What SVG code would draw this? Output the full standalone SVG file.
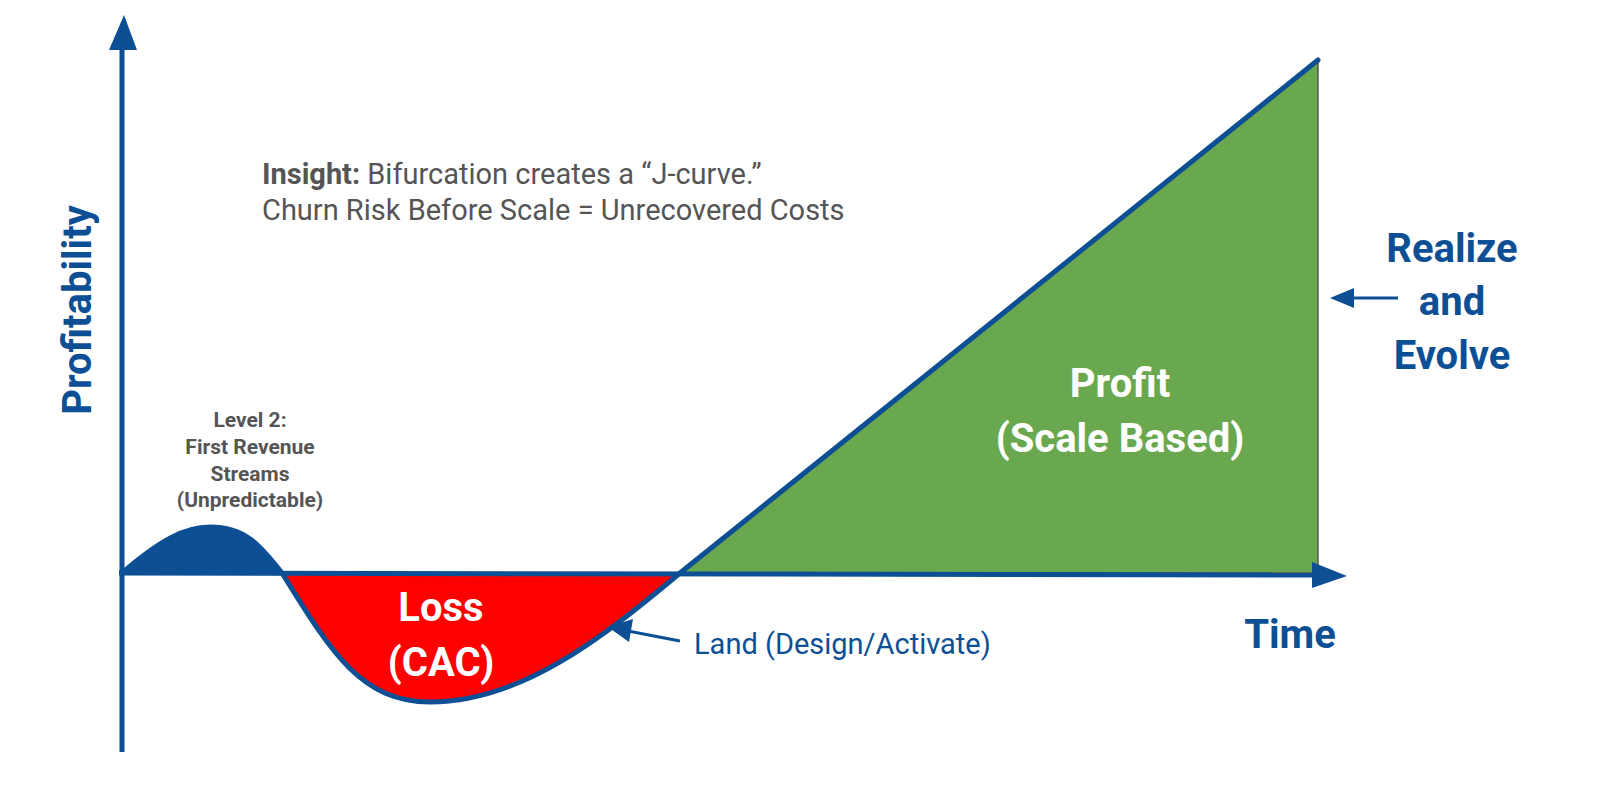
<svg xmlns="http://www.w3.org/2000/svg" width="1600" height="801" viewBox="0 0 1600 801">
<style>
.b{fill:#0d4f94;font-family:Roboto,"Liberation Sans",sans-serif;font-weight:bold}
.n{fill:#0d4f94;font-family:Roboto,"Liberation Sans",sans-serif;font-weight:normal}
.w{fill:#fff;font-family:Roboto,"Liberation Sans",sans-serif;font-weight:bold;font-size:40px;text-anchor:middle}
.g{fill:#555;font-family:Roboto,"Liberation Sans",sans-serif}
.ax{stroke:#0d4f94;stroke-width:5;fill:none}
</style>
<rect width="1600" height="801" fill="#fff"/>
<g id="areas">
<path d="M680,573 L1318,62 L1318,573 Z" fill="#6aa84f" stroke="#555" stroke-width="1.5"/>
<path d="M122,573 C160,540 185,527 210,527 C245,527 260,545 282,573 Z" fill="#0d4f94"/>
<path d="M282,573 C330,650 360,702 430,702 C520,702 600,640 680,573 Z" fill="#f00"/>
</g>
<g id="connectors">
<path d="M122,752 L122,45" class="ax"/>
<path d="M109,50 L124,15 L137,50 Z" fill="#0d4f94"/>
<path d="M119,573 L1315,575" class="ax"/>
<path d="M1312,562 L1347,576 L1312,588 Z" fill="#0d4f94"/>
<path d="M122,573 C160,540 185,527 210,527 C245,527 260,545 282,573 C330,650 360,702 430,702 C520,702 600,640 680,573 L1318,60" class="ax" stroke-linecap="round"/>
<path d="M680,641 L628,631" stroke="#0d4f94" stroke-width="3"/>
<path d="M633,619 L608,627 L629,642 Z" fill="#0d4f94"/>
<path d="M1398,298 L1350,298" stroke="#0d4f94" stroke-width="3"/>
<path d="M1354,288 L1330,298 L1354,308 Z" fill="#0d4f94"/>
</g>
<g id="labels">
<text class="b" font-size="40" transform="translate(91,310) rotate(-90)" text-anchor="middle">Profitability</text>
<text class="g" x="262" y="184" font-size="29"><tspan font-weight="bold">Insight:</tspan> Bifurcation creates a “J-curve.”</text>
<text class="g" x="262" y="220" font-size="29">Churn Risk Before Scale = Unrecovered Costs</text>
<g class="g" font-size="21" font-weight="bold" text-anchor="middle">
<text x="250" y="427">Level 2:</text>
<text x="250" y="454">First Revenue</text>
<text x="250" y="481">Streams</text>
<text x="250" y="507">(Unpredictable)</text>
</g>
<text class="w" x="441" y="621">Loss</text>
<text class="w" x="441" y="676">(CAC)</text>
<text class="w" x="1120" y="397">Profit</text>
<text class="w" x="1120" y="452">(Scale Based)</text>
<text class="n" x="694" y="654" font-size="29">Land (Design/Activate)</text>
<text class="b" x="1290" y="648" font-size="40" text-anchor="middle">Time</text>
<g class="b" font-size="40" text-anchor="middle">
<text x="1452" y="262">Realize</text>
<text x="1452" y="315">and</text>
<text x="1452" y="369">Evolve</text>
</g>
</g>
</svg>
